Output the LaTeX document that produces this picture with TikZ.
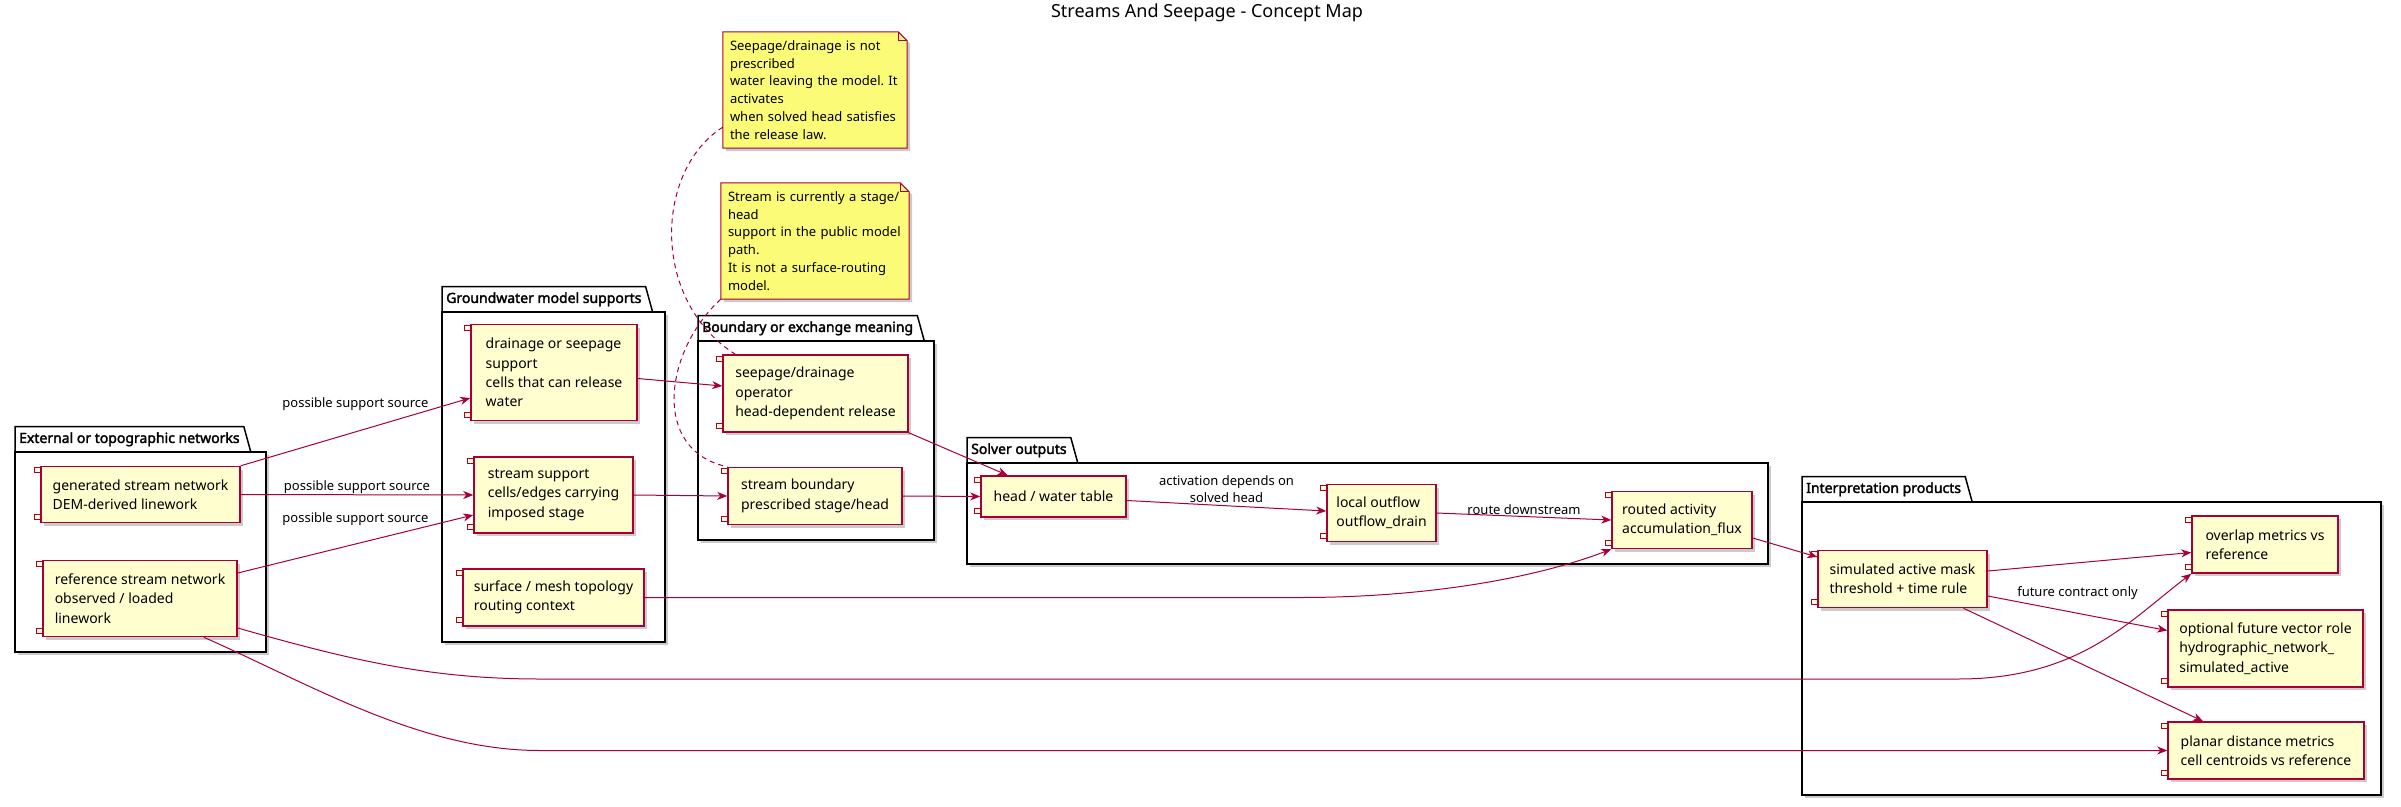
\documentclass[tikz,border=0pt]{standalone}
\usepackage{fontspec}
\setmainfont{Noto Sans}[AutoFakeBold=2.2]
\usepackage{xcolor}
\usepackage{tikz}
\usetikzlibrary{arrows.meta, positioning, shadows, backgrounds}

\definecolor{umlred}{HTML}{A80036}
\definecolor{compyellow}{HTML}{FEFECE}
\definecolor{noteyellow}{HTML}{FBFB77}
\frenchspacing

\begin{document}
\begin{tikzpicture}[
    x=1pt, y=-1pt,
    every node/.style={font=\fontsize{14}{19.3}\selectfont},
    icon/.style={draw=umlred, fill=compyellow, line width=1.2pt},
    comp/.style={rectangle, draw=umlred, line width=1.5pt, fill=compyellow, align=left, inner sep=0pt,
        drop shadow={shadow xshift=3pt, shadow yshift=-3pt, fill=black!45, opacity=0.45},
        append after command={\pgfextra{
            \draw[icon] ([xshift=-5.5pt, yshift=-2pt]\tikzlastnode.north west) rectangle ++(11pt,-5pt);
            \draw[icon] ([xshift=-5.5pt, yshift=9pt]\tikzlastnode.south west) rectangle ++(11pt,-5pt);
        }}},
    note/.style={align=left, inner xsep=7pt, inner ysep=0pt, font=\fontsize{13}{17.8}\selectfont},
    notebox/.style={draw=umlred, line width=1pt, fill=noteyellow,
        drop shadow={shadow xshift=3pt, shadow yshift=-3pt, fill=black!45, opacity=0.45}},
    pkg/.style={draw=black, line width=1.5pt, fill=white,
        drop shadow={shadow xshift=3pt, shadow yshift=-3pt, fill=black!45, opacity=0.45}},
    pkgtab/.style={draw=black, line width=1.5pt},
    pkgtitle/.style={anchor=south west, inner xsep=4pt, inner ysep=0pt, minimum height=25pt, font=\fontsize{14}{17}\selectfont\bfseries},
    lbl/.style={inner sep=1pt, align=center, font=\fontsize{13}{17}\selectfont},
    arr/.style={-{Stealth[length=10pt, width=8pt, inset=3pt]}, draw=umlred, line width=1pt},
    notelink/.style={draw=umlred, line width=1pt, dash pattern=on 5pt off 4pt}
]
\begin{scope}[on background layer]
\fill[white] (0,0) rectangle (2401,806);
\end{scope}
\useasboundingbox (0,0) rectangle (2401,806);

\node[font=\fontsize{18}{22}\selectfont] (title) at (1207,13) {Streams And Seepage - Concept Map};

% Packages
\draw[pkg] (15,452) rectangle (266,652);
\node[pkgtitle] (extT) at (15,452) {External or topographic networks};
\draw[pkgtab] (extT.south west) |- (extT.north east) -- ([xshift=7pt]extT.south east);

\draw[pkg] (442,312) rectangle (665,642);
\node[pkgtitle] (gwT) at (442,312) {Groundwater model supports};
\draw[pkgtab] (gwT.south west) |- (gwT.north east) -- ([xshift=7pt]gwT.south east);

\draw[pkg] (698,341) rectangle (934,540);
\node[pkgtitle] (bndT) at (698,341) {Boundary or exchange meaning};
\draw[pkgtab] (bndT.south west) |- (bndT.north east) -- ([xshift=7pt]bndT.south east);

\draw[pkg] (967,463) rectangle (1768,564);
\node[pkgtitle] (solT) at (967,463) {Solver outputs};
\draw[pkgtab] (solT.south west) |- (solT.north east) -- ([xshift=7pt]solT.south east);

\draw[pkg] (1802,502) rectangle (2381,795);
\node[pkgtitle] (intT) at (1802,502) {Interpretation products};
\draw[pkgtab] (intT.south west) |- (intT.north east) -- ([xshift=7pt]intT.south east);

% Column 1: external networks
\node[comp, minimum width=199pt, minimum height=56pt] (gen) at (140.5,494.5) {generated stream network\\DEM-derived linework};
\node[comp, minimum width=194pt, minimum height=76pt] (refnet) at (140,598.5) {reference stream network\\observed / loaded\\linework};

% Column 2: groundwater supports
\node[comp, minimum width=166pt, minimum height=96pt] (drain) at (554,372.5) {drainage or seepage\\support\\cells that can release\\water};
\node[comp, minimum width=159pt, minimum height=76pt] (ssup) at (553.5,495) {stream support\\cells/edges carrying\\imposed stage};
\node[comp, minimum width=181pt, minimum height=57pt] (mesh) at (553.5,597.5) {surface / mesh topology\\routing context};

% Column 3: boundary meaning
\node[comp, minimum width=185pt, minimum height=77pt] (seepop) at (815.5,393.5) {seepage/drainage\\operator\\head-dependent release};
\node[comp, minimum width=174pt, minimum height=57pt] (sbound) at (815,496) {stream boundary\\prescribed stage/head};

% Notes
\node[note, text width=170pt, minimum height=116pt] (n1) at (815,90) {Seepage/drainage is not\\prescribed\\water leaving the model. It\\activates\\when solved head satisfies\\the release law.};
\node[note, text width=174pt, minimum height=116pt] (n2) at (815,241) {Stream is currently a stage/\\head\\support in the public model\\path.\\It is not a surface-routing\\model.};
\begin{scope}[on background layer]
\draw[notebox] (n1.north west) -- ([xshift=-9pt]n1.north east) -- ([yshift=-9pt]n1.north east) -- (n1.south east) -- (n1.south west) -- cycle;
\draw[notebox] (n2.north west) -- ([xshift=-9pt]n2.north east) -- ([yshift=-9pt]n2.north east) -- (n2.south east) -- (n2.south west) -- cycle;
\end{scope}
\draw[umlred, line width=1pt] ([xshift=-9pt]n1.north east) |- ([yshift=-9pt]n1.north east);
\draw[umlred, line width=1pt] ([xshift=-9pt]n2.north east) |- ([yshift=-9pt]n2.north east);

% Solver outputs
\node[comp, minimum width=145pt, minimum height=41pt] (head) at (1053.5,496.5) {head / water table};
\node[comp, minimum width=109pt, minimum height=57pt] (outflow) at (1381.5,513) {local outflow\\outflow\_drain};
\node[comp, minimum width=140pt, minimum height=57pt] (routed) at (1682,520) {routed activity\\accumulation\_flux};

% Interpretation products
\node[comp, minimum width=169pt, minimum height=57pt] (simmask) at (1902.5,579) {simulated active mask\\threshold + time rule};
\node[comp, minimum width=146pt, minimum height=57pt] (overlap) at (2265,544.5) {overlap metrics vs\\reference};
\node[comp, minimum width=195pt, minimum height=77pt] (vecrole) at (2265.5,648.5) {optional future vector role\\hydrographic\_network\_\\simulated\_active};
\node[comp, minimum width=196pt, minimum height=57pt] (planar) at (2266,750.5) {planar distance metrics\\cell centroids vs reference};

% Arrows
\draw[arr] (gen.north east) -- node[lbl, above=20pt] {possible support source} ([yshift=-25.5pt]drain.west);
\draw[arr] (gen.east) -- node[lbl, above] {possible support source} (ssup.west);
\draw[arr] ([yshift=25.5pt]refnet.east) -- node[lbl, above=17pt] {possible support source} ([yshift=-20pt]ssup.west);
\draw[arr] ([yshift=-29.5pt]refnet.east) .. controls (350,660) and (430,679) .. (540,679) -- (1958,679) .. controls (2080,679) and (2130,620) .. (overlap.south west);
\draw[arr] ([xshift=-34pt]refnet.south east) .. controls (310,684) and (420,750.5) .. (540,750.5) -- (planar.west);
\draw[arr] ([yshift=-6pt]drain.east) -- ([yshift=7.5pt]seepop.west);
\draw[arr] (ssup.east) -- (sbound.west);
\draw[arr] (mesh.east) -- (1300,597.5) .. controls (1420,597.5) and (1530,580) .. (routed.south west);
\draw[arr] (seepop.south east) -- ([xshift=-46pt]head.north);
\draw[arr] (sbound.east) -- (head.west);
\draw[arr] ([yshift=-4pt]head.east) -- node[lbl, above=2pt] {activation depends on\\solved head} ([yshift=2pt]outflow.west);
\draw[arr] (outflow.east) -- node[lbl, above] {route downstream} (routed.west);
\draw[arr] ([yshift=-18pt]routed.east) -- ([yshift=22pt]simmask.west);
\draw[arr] ([yshift=8pt]simmask.east) -- ([yshift=-8pt]overlap.west);
\draw[arr] ([yshift=-17pt]simmask.east) -- node[lbl, above=12pt] {future contract only} ([yshift=18pt]vecrole.west);
\draw[arr] ([xshift=61pt]simmask.south) -- ([xshift=-63pt]planar.north);

% Note links
\draw[notelink] ([yshift=21pt]n1.south west) .. controls (655,170) and (650,300) .. ([xshift=13pt]seepop.north west);
\draw[notelink] (n2.south west) .. controls (665,350) and (650,450) .. (sbound.north west);

\end{tikzpicture}
\end{document}
